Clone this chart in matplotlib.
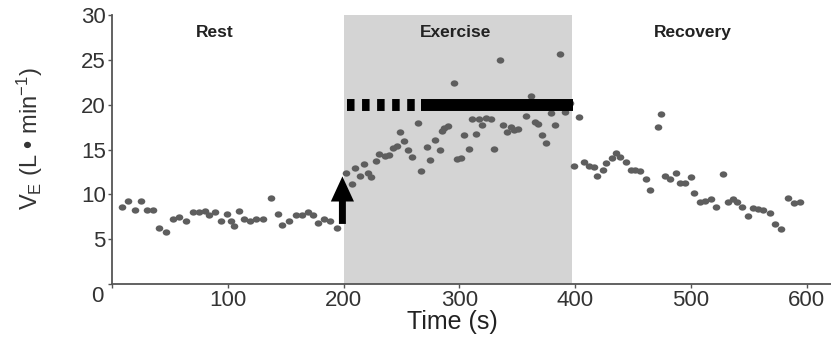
import matplotlib
import matplotlib.pyplot as plt
from matplotlib.path import Path
from matplotlib.transforms import Affine2D

matplotlib.use('Agg')

plt.rcParams['font.family'] = ['Liberation Sans', 'DejaVu Sans']
plt.rcParams['mathtext.fontset'] = 'custom'
plt.rcParams['mathtext.rm'] = 'Liberation Sans'
plt.rcParams['mathtext.it'] = 'Liberation Sans:italic'

# 데이터
rest_t = [9, 14, 20, 25, 30, 35, 41, 47, 53, 58, 64, 70, 75, 80, 84, 89, 94, 99,
          103, 105, 110, 114, 119, 124, 130, 137, 143, 147, 153, 159, 164, 169,
          174, 178, 183, 188, 194]
rest_ve = [8.6, 9.3, 8.3, 9.3, 8.2, 8.2, 6.3, 5.8, 7.3, 7.5, 7.0, 8.0, 8.0, 8.1,
           7.7, 8.0, 7.0, 7.8, 7.0, 6.5, 8.1, 7.3, 7.0, 7.3, 7.3, 9.6, 7.8, 6.6,
           7.0, 7.7, 7.7, 8.0, 7.7, 6.8, 7.3, 7.0, 6.2]

exercise_t = [202, 207, 210, 214, 218, 221, 224, 228, 231, 236, 239, 243, 246,
              249, 252, 256, 259, 264, 267, 272, 275, 279, 283, 285, 287, 290,
              295, 298, 301, 304, 308, 311, 314, 317, 320, 323, 327, 330, 335,
              338, 341, 345, 347, 351, 358, 362, 365, 368, 371, 375, 379, 383,
              387, 391, 396]
exercise_ve = [12.4, 11.1, 12.9, 12.1, 13.4, 12.4, 11.9, 13.7, 14.5, 14.3, 14.4,
               15.2, 15.4, 17.0, 16.0, 14.9, 14.2, 17.9, 12.6, 15.3, 13.8, 16.1,
               15.0, 17.1, 17.4, 17.6, 22.4, 13.9, 14.0, 16.6, 15.1, 18.4, 16.7,
               18.4, 17.7, 18.5, 18.4, 15.1, 25.0, 17.7, 16.9, 17.5, 17.2, 17.3,
               18.7, 21.0, 18.1, 17.8, 16.6, 15.7, 19.1, 17.7, 25.6, 19.2, 20.2]

recovery_t = [399, 403, 408, 412, 416, 419, 424, 427, 432, 435, 439, 444, 448,
              452, 456, 461, 465, 472, 474, 478, 482, 487, 491, 495, 500, 503,
              508, 512, 517, 522, 528, 532, 536, 540, 544, 549, 554, 558, 562,
              568, 573, 578, 584, 589, 594]
recovery_ve = [13.2, 18.6, 13.6, 13.2, 13.0, 12.1, 12.7, 13.5, 14.0, 14.6, 14.2,
               13.6, 12.7, 12.7, 12.6, 11.7, 10.5, 17.5, 19.0, 12.0, 11.7, 12.4,
               11.3, 11.3, 11.9, 10.2, 9.1, 9.3, 9.5, 8.6, 12.3, 9.2, 9.5, 9.2,
               8.6, 7.6, 8.5, 8.4, 8.2, 7.9, 6.7, 6.1, 9.6, 9.0, 9.2]

phase_names = ['Rest', 'Exercise', 'Recovery']
phase_centers = [89, 297, 502]
exercise_window = (200, 397)
target_level = 20.0
dashed_part = (203, 267)
solid_part = (267, 398)
arrow_x, arrow_base, arrow_tip = 199, 6.7, 12.0

fig = plt.figure(figsize=(8.31, 3.39), dpi=100)
ax = fig.add_axes([112 / 831, 1 - 284 / 339, 1 - 112 / 831, (284 - 15) / 339])

ax.axvspan(*exercise_window, color='#d4d4d4', lw=0, zorder=0)

# 약간 가로로 늘어난 점 모양
dot = Path.unit_circle().transformed(Affine2D().scale(1.2, 1.0))
for t, v in [(rest_t, rest_ve), (exercise_t, exercise_ve), (recovery_t, recovery_ve)]:
    ax.scatter(t, v, s=30, marker=dot, color='#5e5e5e', linewidths=0, zorder=2)

ax.plot(dashed_part, [target_level] * 2, color='black', lw=8.6,
        ls=(0, (0.63, 0.63)), dash_capstyle='butt', zorder=3)
ax.plot(solid_part, [target_level] * 2, color='black', lw=8.6,
        solid_capstyle='butt', zorder=3)

ax.arrow(arrow_x, arrow_base, 0, arrow_tip - arrow_base, width=6, head_width=20,
         head_length=2.8, length_includes_head=True, color='black', lw=0, zorder=4)

for name, xc in zip(phase_names, phase_centers):
    ax.text(xc, 28.0, name, ha='center', va='center', fontsize=12.5,
            fontweight='bold', color='#222222')

ax.set_xlim(0, 621)
ax.set_ylim(0, 30)
ax.set_xticks(range(0, 601, 100))
ax.set_xticklabels([''] + [str(v) for v in range(100, 601, 100)])
ax.set_yticks(range(0, 31, 5))
ax.set_yticklabels([''] + [str(v) for v in range(5, 31, 5)])
ax.tick_params(length=3, width=1, color='#555555', labelsize=16,
               labelcolor='#333333', pad=1.5)

for side in ['top', 'right']:
    ax.spines[side].set_visible(False)
for side in ['left', 'bottom']:
    ax.spines[side].set_color('#555555')
    ax.spines[side].set_linewidth(1.3)

fig.text(97 / 831, 1 - 297 / 339, '0', ha='center', va='center',
         fontsize=16, color='#333333')
fig.text(452 / 831, 1 - 322 / 339, 'Time (s)', ha='center', va='center',
         fontsize=18, color='#222222')
fig.text(30 / 831, 1 - 139 / 339, r'V$_{\mathrm{E}}$ (L • min$^{\mathrm{-1}}$)',
         ha='center', va='center', rotation=90, fontsize=17, color='#333333')

fig.savefig('out.png', dpi=100)
plt.close(fig)
